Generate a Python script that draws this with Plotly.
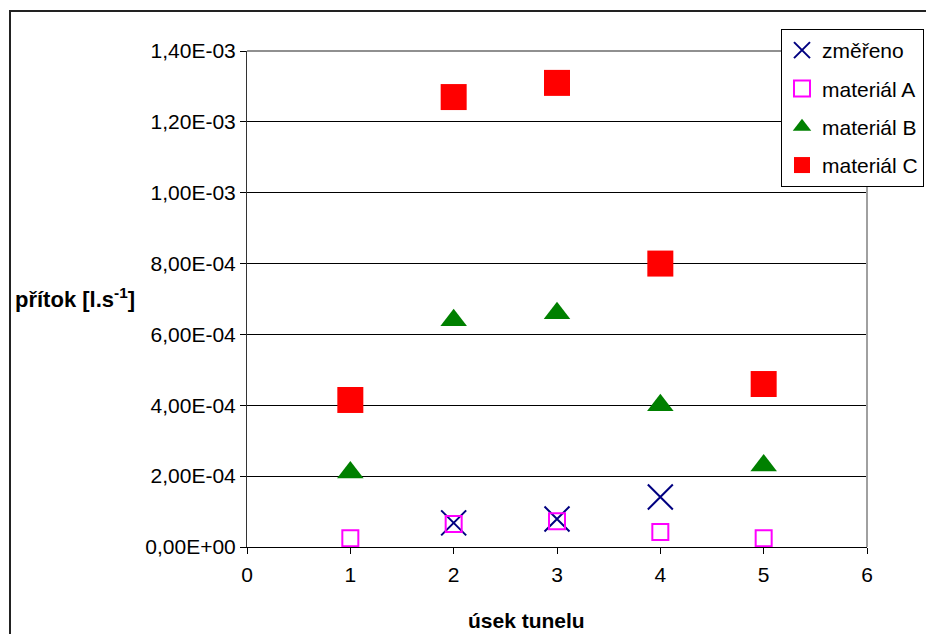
import plotly.graph_objects as go

# ---- data ----
useky = [1, 2, 3, 4, 5]
zmereno_x = [2, 3, 4]
zmereno_y = [6.8e-5, 7.9e-5, 1.41e-4]
materialA = [2.5e-5, 6.5e-5, 7.3e-5, 4.2e-5, 2.5e-5]
materialB = [2.1e-4, 6.4e-4, 6.6e-4, 4.0e-4, 2.3e-4]
materialC = [4.15e-4, 1.27e-3, 1.31e-3, 8.0e-4, 4.6e-4]

y_tickvals = [0, 2e-4, 4e-4, 6e-4, 8e-4, 1.0e-3, 1.2e-3, 1.4e-3]
y_ticktext = ["0,00E+00", "2,00E-04", "4,00E-04", "6,00E-04", "8,00E-04",
              "1,00E-03", "1,20E-03", "1,40E-03"]
x_tickvals = [0, 1, 2, 3, 4, 5, 6]

FONT = "Liberation Sans, Arial, sans-serif"

W, H = 926, 634
L, R, T, B = 247, 59, 51, 87
PW, PH = W - L - R, H - T - B

def px(x):
    return (x - L) / PW

def py(y):
    return (H - B - y) / PH

fig = go.Figure()
fig.add_trace(go.Scatter(
    x=zmereno_x, y=zmereno_y, mode="markers", name="změřeno",
    legendgroup="a",
    marker=dict(symbol="x-thin-open", size=25, color="#000080",
                line=dict(color="#000080", width=2))))
fig.add_trace(go.Scatter(
    x=useky, y=materialA, mode="markers", name="materiál A",
    legendgroup="b",
    marker=dict(symbol="square-open", size=16, color="#FF00FF",
                line=dict(color="#FF00FF", width=2))))
fig.add_trace(go.Scatter(
    x=useky, y=materialB, mode="markers", name="materiál B",
    legendgroup="c",
    marker=dict(symbol="triangle-up", size=23, color="#008000")))
fig.add_trace(go.Scatter(
    x=useky, y=materialC, mode="markers", name="materiál C",
    legendgroup="d",
    marker=dict(symbol="square", size=26, color="#FF0000")))

fig.update_layout(
    width=W, height=H,
    margin=dict(l=L, r=R, t=T, b=B, autoexpand=False),
    paper_bgcolor="white", plot_bgcolor="white",
    font=dict(family=FONT, color="black", size=21),
    showlegend=True,
    legend=dict(x=px(781), y=py(29), xanchor="left", yanchor="top",
                bgcolor="white", bordercolor="black", borderwidth=1,
                font=dict(size=21, family=FONT),
                traceorder="grouped", tracegroupgap=8),
    xaxis=dict(range=[0, 6], tickvals=x_tickvals, showgrid=False,
               zeroline=False, showline=True, linecolor="black", linewidth=1,
               ticks="outside", ticklen=6, tickcolor="black",
               ticklabelstandoff=3,
               tickfont=dict(size=21, family=FONT)),
    yaxis=dict(range=[0, 1.4e-3], tickvals=y_tickvals, ticktext=y_ticktext,
               showgrid=True, gridcolor="black", gridwidth=1,
               zeroline=False, showline=True, linecolor="#333333", linewidth=1,
               ticks="outside", ticklen=6, tickcolor="black",
               tickfont=dict(size=21, family=FONT)),
    shapes=[
        dict(type="line", xref="paper", yref="paper", x0=0, x1=1, y0=1, y1=1,
             line=dict(color="#909090", width=2), layer="above"),
        dict(type="line", xref="paper", yref="paper", x0=1, x1=1, y0=0, y1=1,
             line=dict(color="#A0A0A0", width=2), layer="above"),
        dict(type="rect", xref="paper", yref="paper",
             x0=px(10), x1=px(940), y0=py(650), y1=py(11),
             line=dict(color="#222222", width=2), layer="below"),
    ],
    annotations=[
        dict(text="<b>přítok [l.s<sup>-1</sup>]</b>", xref="paper", yref="paper",
             x=px(13), y=py(298), xanchor="left", yanchor="middle",
             showarrow=False, font=dict(size=22, family=FONT)),
        dict(text="<b>úsek tunelu</b>", xref="paper", yref="paper",
             x=px(526), y=py(620), xanchor="center", yanchor="middle",
             showarrow=False, font=dict(size=21, family=FONT)),
    ],
)

fig.write_html("out.html")
